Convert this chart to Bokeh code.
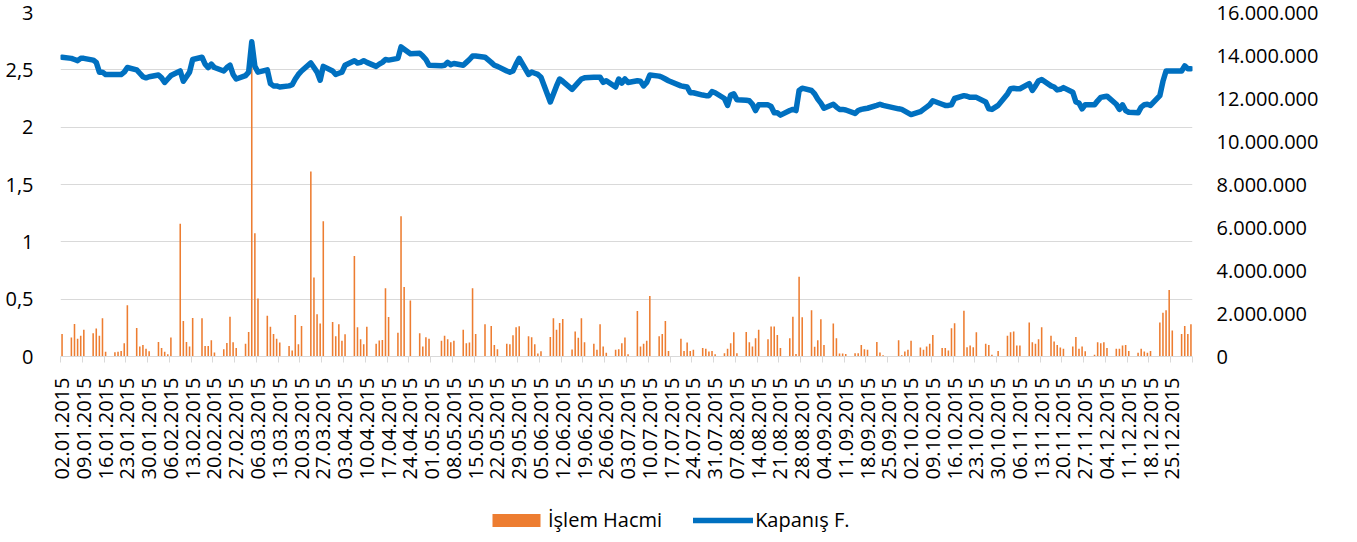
import math
import pandas as pd
from bokeh.plotting import figure
from bokeh.layouts import column
from bokeh.models import (Range1d, LinearAxis, FixedTicker, Legend, LegendItem,
                          ColumnDataSource)
from bokeh.embed import file_html
from bokeh.resources import INLINE

# ---- trading calendar (BIST 2015) ----
holidays = ["2015-04-23", "2015-05-01", "2015-05-19", "2015-07-17",
            "2015-09-24", "2015-09-25", "2015-10-29"]

# ---- İşlem Hacmi (volume, millions) per trading day ----
volume_mn = [
    # Jan
    1.05, 0.88, 1.51, 0.83, 0.96, 1.24, 1.08, 1.30, 0.96, 1.78, 0.22, 0.20, 0.22, 0.26, 0.62, 2.38, 1.33, 0.46, 0.54, 0.36, 0.25,
    # Feb
    0.68, 0.39, 0.22, 0.11, 0.88, 6.18, 1.65, 0.68, 0.46, 1.79, 1.78, 0.49, 0.49, 0.76, 0.19, 0.34, 0.63, 1.85, 0.66, 0.39,
    # Mar
    0.59, 1.14, 14.68, 5.73, 2.70, 1.89, 1.38, 1.05, 0.82, 0.65, 0.49, 0.28, 1.93, 0.57, 1.42, 8.61, 3.68, 1.96, 1.53, 6.29, 1.61, 0.94,
    # Apr
    1.50, 0.73, 1.04, 4.67, 1.36, 0.80, 0.57, 1.38, 0.59, 0.74, 0.77, 3.18, 1.84, 1.11, 6.52, 3.23, 2.60, 1.08, 0.46, 0.90, 0.83,
    # May
    0.73, 0.96, 0.80, 0.66, 0.73, 1.25, 0.62, 0.65, 3.18, 1.05, 1.50, 1.42, 0.54, 0.34, 0.59, 0.57, 0.99, 1.36, 1.41,
    # Jun
    0.94, 0.90, 0.57, 0.14, 0.25, 0.91, 1.78, 1.24, 1.56, 1.75, 0.32, 1.16, 0.87, 1.78, 0.66, 0.59, 0.31, 1.50, 0.46, 0.17, 0.31, 0.34,
    # Jul
    0.62, 0.88, 0.11, 2.12, 0.46, 0.59, 0.73, 2.81, 0.94, 1.05, 1.65, 0.26, 0.82, 0.26, 0.65, 0.26, 0.31, 0.40, 0.36, 0.23, 0.26, 0.11,
    # Aug
    0.15, 0.36, 0.62, 1.13, 0.15, 1.14, 0.66, 0.46, 0.85, 1.24, 0.80, 1.39, 1.39, 1.00, 0.39, 0.85, 1.85, 0.12, 3.71, 1.82, 2.15,
    # Sep
    0.45, 0.76, 1.73, 0.53, 1.53, 0.85, 0.14, 0.14, 0.12, 0.15, 0.15, 0.54, 0.34, 0.31, 0.68, 0.19, 0.06, 0.76, 0.06, 0.23,
    # Oct
    0.31, 0.73, 0.42, 0.31, 0.46, 0.59, 1.00, 0.39, 0.39, 0.28, 1.31, 1.55, 2.13, 0.43, 0.51, 0.43, 1.13, 0.59, 0.54, 0.08, 0.26,
    # Nov
    0.96, 1.13, 1.16, 0.51, 0.51, 1.58, 0.66, 0.59, 0.80, 1.36, 0.96, 0.70, 0.54, 0.42, 0.36, 0.46, 0.91, 0.36, 0.46, 0.25, 0.08,
    # Dec
    0.66, 0.62, 0.66, 0.39, 0.36, 0.36, 0.51, 0.54, 0.26, 0.17, 0.36, 0.23, 0.17, 0.26, 1.58, 2.04, 2.15, 3.09, 1.21, 1.05, 1.42, 1.05, 1.50,
]

# ---- Kapanış F. (closing price) per trading day ----
close = [
    # Jan
    2.61, 2.60, 2.59, 2.58, 2.60, 2.60, 2.585, 2.565, 2.48, 2.48, 2.46, 2.46, 2.46, 2.46, 2.48, 2.52, 2.50, 2.47, 2.44, 2.43, 2.44,
    # Feb
    2.455, 2.43, 2.39, 2.42, 2.45, 2.49, 2.40, 2.44, 2.48, 2.59, 2.61, 2.55, 2.52, 2.55, 2.52, 2.49, 2.52, 2.54, 2.46, 2.42,
    # Mar
    2.45, 2.48, 2.745, 2.53, 2.48, 2.50, 2.38, 2.36, 2.36, 2.35, 2.36, 2.37, 2.42, 2.46, 2.49, 2.56, 2.52, 2.48, 2.41, 2.53, 2.49, 2.46,
    # Apr
    2.47, 2.48, 2.54, 2.58, 2.56, 2.565, 2.58, 2.565, 2.53, 2.55, 2.565, 2.59, 2.585, 2.60, 2.70, 2.68, 2.64, 2.645, 2.62, 2.59, 2.54,
    # May
    2.535, 2.54, 2.565, 2.545, 2.555, 2.54, 2.565, 2.59, 2.62, 2.62, 2.61, 2.565, 2.54, 2.53, 2.49, 2.48, 2.49, 2.55, 2.60,
    # Jun
    2.46, 2.48, 2.47, 2.46, 2.435, 2.22, 2.29, 2.36, 2.42, 2.40, 2.33, 2.36, 2.39, 2.42, 2.43, 2.435, 2.435, 2.435, 2.39, 2.405, 2.35, 2.42,
    # Jul
    2.385, 2.42, 2.39, 2.405, 2.40, 2.36, 2.39, 2.455, 2.445, 2.435, 2.42, 2.405, 2.36, 2.355, 2.35, 2.30, 2.30, 2.28, 2.275, 2.275, 2.31, 2.30,
    # Aug
    2.25, 2.19, 2.28, 2.29, 2.24, 2.235, 2.23, 2.20, 2.145, 2.195, 2.195, 2.18, 2.125, 2.125, 2.105, 2.145, 2.155, 2.145, 2.32, 2.34, 2.32,
    # Sep
    2.29, 2.245, 2.21, 2.165, 2.20, 2.175, 2.155, 2.155, 2.15, 2.12, 2.145, 2.155, 2.16, 2.165, 2.19, 2.20, 2.19, 2.16, 2.155, 2.14,
    # Oct
    2.125, 2.11, 2.135, 2.155, 2.175, 2.195, 2.23, 2.20, 2.19, 2.19, 2.195, 2.25, 2.275, 2.27, 2.26, 2.26, 2.26, 2.22, 2.16, 2.155, 2.19,
    # Nov
    2.29, 2.335, 2.34, 2.335, 2.335, 2.38, 2.32, 2.36, 2.405, 2.415, 2.36, 2.35, 2.325, 2.33, 2.345, 2.305, 2.22, 2.21, 2.16, 2.195, 2.195,
    # Dec
    2.23, 2.26, 2.265, 2.27, 2.20, 2.155, 2.195, 2.145, 2.13, 2.125, 2.175, 2.195, 2.20, 2.19, 2.275, 2.40, 2.49, 2.49, 2.49, 2.49, 2.535, 2.51, 2.51,
]

left_ticks = [0, 0.5, 1, 1.5, 2, 2.5, 3]
left_labels = ["0", "0,5", "1", "1,5", "2", "2,5", "3"]
right_ticks = [0, 2000000, 4000000, 6000000, 8000000, 10000000, 12000000, 14000000, 16000000]
right_labels = ["0", "2.000.000", "4.000.000", "6.000.000", "8.000.000",
                "10.000.000", "12.000.000", "14.000.000", "16.000.000"]

# ---- build data ----
start = pd.Timestamp("2015-01-01")
days = pd.bdate_range("2015-01-02", "2015-12-31")
days = days[~days.isin(pd.to_datetime(holidays))]
n = min(len(days), len(volume_mn), len(close))
days = days[:n]
xpos = [float((d - start).days) + 0.5 for d in days]
src = ColumnDataSource(dict(x=xpos, vol=[v * 1e6 for v in volume_mn[:n]], close=close[:n]))

label_dates = pd.date_range("2015-01-02", "2015-12-25", freq="7D")
x_ticks = [float((d - start).days) + 0.5 for d in label_dates]
x_minor = [float((d - start).days) for d in pd.date_range("2015-01-02", "2016-01-01", freq="7D")]
x_overrides = {t: d.strftime("%d.%m.%Y") for t, d in zip(x_ticks, label_dates)}

FONT = "Open Sans"
FS = "20px"
GRID = "#D9D9D9"
ORANGE = "#ED7D31"
BLUE = "#0070C0"
W = 1357
MAIN_H = 500
LEG_H = 42

p = figure(width=W, height=MAIN_H, x_range=Range1d(1, 365), y_range=Range1d(0, 3),
           output_backend="svg", toolbar_location=None,
           min_border_left=60, min_border_right=165, min_border_top=12,
           min_border_bottom=MAIN_H - 356)
p.outline_line_color = None
p.xgrid.visible = False
p.ygrid.grid_line_color = GRID
p.ygrid.grid_line_width = 1

p.extra_y_ranges = {"vol": Range1d(0, 16000000)}

bars = p.vbar(x="x", top="vol", width=0.5, source=src, y_range_name="vol",
              fill_color=ORANGE, line_color=None)
line = p.line(x="x", y="close", source=src, line_color=BLUE, line_width=5.5,
              line_join="round", line_cap="round")

# x axis
xa = p.xaxis[0]
xa.ticker = FixedTicker(ticks=x_ticks, minor_ticks=x_minor)
xa.major_label_overrides = x_overrides
xa.major_label_orientation = math.pi / 2
xa.major_tick_out = 0
xa.major_tick_in = 0
xa.minor_tick_out = 6
xa.minor_tick_in = 0
xa.minor_tick_line_color = GRID
xa.axis_line_color = GRID
xa.major_label_standoff = 15
xa.major_label_text_font = FONT
xa.major_label_text_font_size = FS
xa.major_label_text_color = "#000000"

# left axis
ya = p.yaxis[0]
ya.ticker = FixedTicker(ticks=left_ticks)
ya.major_label_overrides = {t: l for t, l in zip(left_ticks, left_labels)}
ya.axis_line_color = None
ya.major_tick_line_color = None
ya.minor_tick_line_color = None
ya.major_tick_out = 0
ya.major_label_standoff = 27
ya.major_label_text_font = FONT
ya.major_label_text_font_size = FS
ya.major_label_text_color = "#000000"

# right axis
ra = LinearAxis(y_range_name="vol", ticker=FixedTicker(ticks=right_ticks))
ra.major_label_overrides = {t: l for t, l in zip(right_ticks, right_labels)}
ra.axis_line_color = None
ra.major_tick_line_color = None
ra.minor_tick_line_color = None
ra.major_tick_out = 0
ra.major_label_standoff = 24
ra.major_label_text_font = FONT
ra.major_label_text_font_size = FS
ra.major_label_text_color = "#000000"
p.add_layout(ra, "right")

# ---- legend strip below the chart ----
lp = figure(width=W, height=LEG_H, x_range=Range1d(0, W), y_range=Range1d(0, LEG_H),
            output_backend="svg", toolbar_location=None,
            x_axis_type=None, y_axis_type=None, min_border=0,
            min_border_left=0, min_border_right=0, min_border_top=0, min_border_bottom=0)
lp.outline_line_color = None
lp.grid.visible = False
leg_bar = lp.vbar(x=[-100], top=[0], width=1, fill_color=ORANGE, line_color=None)
leg_line = lp.line(x=[-100, -99], y=[0, 0], line_color=BLUE, line_width=5.5, line_cap="round")

legend = Legend(items=[LegendItem(label="İşlem Hacmi", renderers=[leg_bar]),
                       LegendItem(label="Kapanış F.", renderers=[leg_line])],
                location=(426, 9), orientation="horizontal",
                glyph_width=60, glyph_height=16, label_standoff=2, spacing=31,
                padding=0, margin=0,
                border_line_color=None, background_fill_alpha=0,
                label_text_font=FONT, label_text_font_size=FS, label_text_color="#000000")
lp.add_layout(legend)

open("out.html", "w").write(file_html(column(p, lp, spacing=0), INLINE))
